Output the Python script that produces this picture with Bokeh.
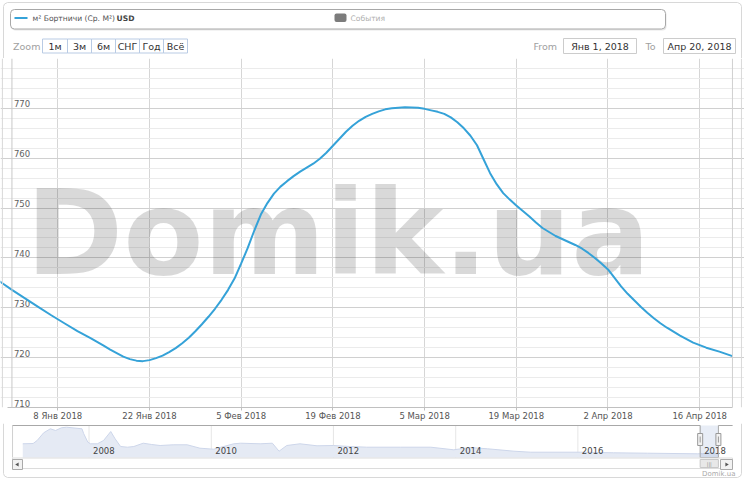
import math
import pandas as pd
from bokeh.plotting import figure
from bokeh.layouts import column
from bokeh.models import Range1d, FixedTicker, Grid, Span, ColumnDataSource
from bokeh.core.properties import value
from bokeh.embed import file_html
from bokeh.resources import INLINE

FONT = "DejaVu Sans"
LINE_COLOR = "#35a2d8"

# ---------------- data ----------------
series_label = "м² Бортничи (Ср. М²) "
series_unit = "USD"
events_label = "События"
zoom_label = "Zoom"
zoom_buttons = ["1м", "3м", "6м", "СНГ", "Год", "Всё"]
range_from = "2018-01-01"
range_to = "2018-04-20"
range_from_label = "Янв 1, 2018"
range_to_label = "Апр 20, 2018"
watermark = "Domik.ua"
credit = "Domik.ua"

# price series: days counted from 2018-01-01
price_base = "2018-01-01"
price_day_offsets = [-2, 0, 2, 4, 6, 8, 10, 12, 14, 15,
                     16, 17, 18, 19, 20, 21, 22, 23, 24, 25,
                     26, 27, 28, 29, 30, 31, 32, 33, 34, 35,
                     36, 37, 38, 39, 40, 41, 42, 43, 44, 45,
                     46, 47, 48, 49, 50, 51, 52, 53, 54, 55,
                     56, 57, 58, 60, 62, 63, 64, 65, 66, 67,
                     68, 69, 70, 71, 72, 73, 74, 75, 76, 77,
                     78, 79, 80, 81, 82, 83, 84, 85, 86, 87,
                     88, 89, 90, 91, 92, 93, 94, 95, 96, 97,
                     98, 99, 100, 102, 104, 106, 108, 110]
price_values = [735.4, 733.6, 731.9, 730.2, 728.5, 726.9, 725.3, 723.9, 722.4, 721.6,
                720.9, 720.2, 719.7, 719.4, 719.3, 719.5, 719.9, 720.4, 721.1, 721.9,
                722.9, 724.0, 725.3, 726.7, 728.2, 729.8, 731.6, 733.6, 735.9, 738.9,
                742.0, 745.5, 748.7, 751.0, 752.9, 754.3, 755.4, 756.4, 757.3, 758.1,
                758.9, 759.9, 761.1, 762.5, 763.9, 765.3, 766.5, 767.5, 768.3, 768.9,
                769.4, 769.8, 770.0, 770.2, 770.1, 769.9, 769.6, 769.3, 768.9, 768.2,
                767.2, 766.0, 764.5, 762.6, 759.8, 757.0, 754.8, 753.0, 751.7, 750.5,
                749.4, 748.3, 747.1, 746.0, 745.2, 744.4, 743.8, 743.2, 742.6, 741.9,
                741.0, 740.0, 738.9, 737.7, 736.0, 734.3, 732.8, 731.5, 730.2, 729.0,
                727.9, 726.9, 726.0, 724.4, 723.0, 722.0, 721.2, 720.3]

x_tick_dates = ["2018-01-08", "2018-01-22", "2018-02-05", "2018-02-19",
                "2018-03-05", "2018-03-19", "2018-04-02", "2018-04-16"]
x_tick_labels = ["8 Янв 2018", "22 Янв 2018", "5 Фев 2018", "19 Фев 2018",
                 "5 Мар 2018", "19 Мар 2018", "2 Апр 2018", "16 Апр 2018"]
y_ticks = [710, 720, 730, 740, 750, 760, 770, 780]
y_label_ticks = [710, 720, 730, 740, 750, 760, 770]
y_minor_ticks = [712, 714, 716, 718, 722, 724, 726, 728, 732, 734, 736, 738,
                 742, 744, 746, 748, 752, 754, 756, 758, 762, 764, 766, 768,
                 772, 774, 776, 778]

nav_dates = ["2006-12-01", "2007-02-01", "2007-02-25", "2007-04-05", "2007-05-15",
             "2007-06-15", "2007-07-20", "2007-08-20", "2007-11-20", "2007-11-30",
             "2007-12-25", "2008-01-10", "2008-02-20", "2008-03-28", "2008-05-10",
             "2008-06-05", "2008-07-08", "2008-08-18", "2008-09-25", "2008-11-20",
             "2009-01-10", "2009-03-01", "2009-05-18", "2009-08-10", "2009-10-25",
             "2010-01-15", "2010-05-15", "2010-06-25", "2010-10-20", "2011-01-01",
             "2011-02-10", "2011-03-28", "2011-06-15", "2011-09-25", "2012-01-01",
             "2012-04-10", "2012-07-18", "2013-02-05", "2013-08-05", "2013-12-20",
             "2014-03-28", "2014-07-10", "2014-12-15", "2015-03-25", "2016-01-15",
             "2016-08-01", "2017-02-20", "2017-12-15", "2018-01-15", "2018-02-20",
             "2018-03-10", "2018-04-20"]
nav_values = [1200, 1214, 1358, 1728, 1920,
              1838, 1968, 1997, 1920, 1694,
              1277, 1200, 1200, 1358, 1790,
              1440, 1070, 1037, 1070, 1229,
              1166, 1118, 1152, 1152, 989,
              941, 1200, 1229, 1200, 1229,
              845, 1118, 1200, 1104, 1118,
              1070, 1037, 1037, 1037, 912,
              1022, 960, 845, 797, 797,
              768, 749, 720, 727, 762,
              769, 721]
nav_year_ticks = ["2008-01-01", "2010-01-01", "2012-01-01", "2014-01-01",
                  "2016-01-01", "2018-01-01"]
nav_year_labels = ["2008", "2010", "2012", "2014", "2016", "2018"]


def ts(s):
    return pd.Timestamp(s)


def ms(s):
    return float(pd.Timestamp(s).value // 10**6)


TF = value(FONT)
W = 744

# ---------------- header (legend + range selector) ----------------
def HY(ry):
    return 58 - ry


h = figure(width=W, height=58, x_range=Range1d(0, W), y_range=Range1d(0, 58),
           min_border=0, toolbar_location=None, output_backend="svg",
           x_axis_location=None, y_axis_location=None, outline_line_color=None)
h.grid.visible = False

# container border (top part)
h.line(x=[3, 3, 4, 7, 737, 740, 741, 741],
       y=[HY(58), HY(6), HY(3.5), HY(2), HY(2), HY(3.5), HY(6), HY(58)],
       line_color="#d8d8d8")

# legend box with slight shadow
h.quad(left=[11], right=[666], top=[HY(10)], bottom=[HY(30)],
       fill_color="#e8e8e8", line_color=None, border_radius=4)
h.quad(left=[10], right=[665], top=[HY(9)], bottom=[HY(28.5)],
       fill_color="white", line_color="#a8a8a8", border_radius=4)
h.segment(x0=[14], y0=[HY(17.5)], x1=[27], y1=[HY(17.5)],
          line_color=LINE_COLOR, line_width=2)
h.text(x=[32], y=[HY(17.5)], text=[series_label], text_font=TF,
       text_font_size="7.6px", text_color="#555555", text_baseline="middle")
h.text(x=[116], y=[HY(17.5)], text=[series_unit], text_font=TF,
       text_font_size="7.6px", text_font_style="bold", text_color="#444444",
       text_baseline="middle")
h.quad(left=[334], right=[346], top=[HY(13)], bottom=[HY(21.5)],
       fill_color="#7c7c7c", line_color=None, border_radius=2)
h.text(x=[350], y=[HY(17.5)], text=[events_label], text_font=TF,
       text_font_size="7.6px", text_color="#b0b0b0", text_baseline="middle")

# zoom buttons
h.text(x=[12.5], y=[HY(45.5)], text=[zoom_label], text_font=TF,
       text_font_size="9.5px", text_color="#a0a0a0", text_baseline="middle")
btn_edges = [42, 67, 91, 115, 139, 163, 187]
h.quad(left=btn_edges[:-1], right=btn_edges[1:],
       top=[HY(38.5)] * 6, bottom=[HY(52.5)] * 6,
       fill_color="white", line_color="#b9cbe4")
h.text(x=[(a + b) / 2 for a, b in zip(btn_edges[:-1], btn_edges[1:])],
       y=[HY(45.5)] * 6, text=zoom_buttons, text_font=TF, text_font_size="9.5px",
       text_color="#333333", text_align="center", text_baseline="middle")

# from / to inputs
h.text(x=[533], y=[HY(45.5)], text=["From"], text_font=TF,
       text_font_size="9.5px", text_color="#a0a0a0", text_baseline="middle")
h.quad(left=[563], right=[636], top=[HY(38)], bottom=[HY(53)],
       fill_color="white", line_color="#cccccc")
h.text(x=[599.5], y=[HY(45.5)], text=[range_from_label], text_font=TF,
       text_font_size="9.5px", text_color="#333333", text_align="center",
       text_baseline="middle")
h.text(x=[645], y=[HY(45.5)], text=["To"], text_font=TF,
       text_font_size="9.5px", text_color="#a0a0a0", text_baseline="middle")
h.quad(left=[663], right=[735], top=[HY(38)], bottom=[HY(53)],
       fill_color="white", line_color="#cccccc")
h.text(x=[699], y=[HY(45.5)], text=[range_to_label], text_font=TF,
       text_font_size="9.5px", text_color="#333333", text_align="center",
       text_baseline="middle")

# ---------------- main chart ----------------
x_start = ts("2017-12-30 06:03")
x_end = ts("2018-04-22 20:10")
grid_left = ts("2017-12-31 08:00")
plot_right = ts("2018-04-21")
frame_left = ts("2017-12-30 13:00")
frame_right = ts("2018-04-22 09:00")

p = figure(width=W, height=365, x_axis_type="datetime",
           x_range=Range1d(x_start, x_end), y_range=Range1d(710, 780),
           y_axis_location=None, toolbar_location=None, output_backend="svg",
           min_border_left=0, min_border_right=0, min_border_top=0,
           min_border_bottom=15, outline_line_color=None)
p.grid.visible = False

tick_ms = [ms(d) for d in x_tick_dates]
ax = p.xaxis[0]
ax.ticker = FixedTicker(ticks=tick_ms)
ax.major_label_overrides = {t: l for t, l in zip(tick_ms, x_tick_labels)}
ax.bounds = (ms(grid_left), ms(plot_right))
ax.axis_line_color = "#c0c0c0"
ax.major_tick_line_color = "#c0c0c0"
ax.major_tick_out = 3
ax.major_tick_in = 0
ax.minor_tick_line_color = None
ax.major_label_standoff = 0
ax.major_label_text_font = FONT
ax.major_label_text_font_size = "8.5px"
ax.major_label_text_color = "#555555"

p.add_layout(Grid(dimension=0, ticker=FixedTicker(ticks=tick_ms),
                  grid_line_color="#d6d6d6"))
p.add_layout(Grid(dimension=1,
                  ticker=FixedTicker(ticks=y_ticks, minor_ticks=y_minor_ticks),
                  grid_line_color="#d0d0d0", minor_grid_line_color="#ebebeb",
                  bounds=(ms(grid_left), ms(plot_right))))
p.add_layout(Span(location=ms(range_from), dimension="height", line_color="#c8c8c8"))
p.add_layout(Span(location=ms(plot_right), dimension="height", line_color="#d0d0d0"))
p.add_layout(Span(location=ms(frame_left), dimension="height", line_color="#d8d8d8"))
p.add_layout(Span(location=ms(frame_right), dimension="height", line_color="#d8d8d8"))

# watermark
p.text(x=[ts("2018-02-19 19:00")], y=[745], text=[watermark], text_font=TF,
       text_font_size="117px", text_font_style="bold", text_color="black",
       text_alpha=0.15, text_align="center", text_baseline="alphabetic")

# y labels inside the plot
ysrc = ColumnDataSource(dict(x=[ts(range_from)] * len(y_label_ticks), y=y_label_ticks,
                             t=[str(v) for v in y_label_ticks]))
p.text(x="x", y="y", text="t", source=ysrc, x_offset=2, y_offset=-1,
       text_baseline="bottom", text_align="left", text_font=TF,
       text_font_size="8.5px", text_color="#606060")

price_x = [ts(price_base) + pd.Timedelta(days=d) for d in price_day_offsets]
src = ColumnDataSource(dict(x=price_x, y=price_values))
p.line(x="x", y="y", source=src, line_color=LINE_COLOR, line_width=2)

# ---------------- navigator ----------------
def NY(ry):
    return 480 - ry


nav_start = ts("2006-07-21")
nav_end = ts("2018-09-23")
nav_left_end = ts("2006-10-01")
nav_right_end = ts("2018-07-14")
nav_floor = 542

n = figure(width=W, height=57, x_range=Range1d(0, W), y_range=Range1d(0, 57),
           min_border=0, toolbar_location=None, output_backend="svg",
           x_axis_location=None, y_axis_location=None, outline_line_color=None)
n.grid.visible = False
n.extra_x_ranges = {"nx": Range1d(nav_start, nav_end)}
n.extra_y_ranges = {"ny": Range1d(-562, 2174)}

yrs = [ts(d) for d in nav_year_ticks]
n.segment(x0=yrs, x1=yrs, y0=[NY(425)] * len(yrs), y1=[NY(457)] * len(yrs),
          line_color="#e6e6e6", x_range_name="nx")
nsrc = ColumnDataSource(dict(x=[ts(d) for d in nav_dates], y=nav_values,
                             y0=[nav_floor] * len(nav_values)))
n.varea(x="x", y1="y0", y2="y", source=nsrc, fill_color="#e5eaf4",
        x_range_name="nx", y_range_name="ny")
n.line(x="x", y="y", source=nsrc, line_color="#cdd6ea", line_width=1,
       x_range_name="nx", y_range_name="ny")
# selected mask
n.quad(left=[ts(range_from)], right=[ts(range_to)], bottom=[NY(457)], top=[NY(425)],
       fill_color="#6685c2", fill_alpha=0.15, line_color=None, x_range_name="nx")
n.text(x=yrs, y=[NY(450)] * len(yrs), text=nav_year_labels, x_offset=4,
       text_font=TF, text_font_size="8.5px", text_color="#444444",
       text_baseline="middle", x_range_name="nx")
# outline
n.segment(x0=[nav_left_end], x1=[nav_left_end], y0=[NY(425)], y1=[NY(457)],
          line_color="#d0d0d0", x_range_name="nx")
n.line(x=[nav_left_end, ts(range_from), ts(range_from), ts(range_to), ts(range_to),
          nav_right_end],
       y=[NY(425), NY(425), NY(457), NY(457), NY(425), NY(425)],
       line_color="#a8a8a8", x_range_name="nx")
# scrollbar track
n.quad(left=[12], right=[732], top=[NY(457.5)], bottom=[NY(468)],
       fill_color="white", line_color="#dcdcdc")
n.quad(left=[ts(range_from)], right=[ts(range_to)], top=[NY(459)], bottom=[NY(467)],
       fill_color="#e8e8e8", line_color="#c8c8c8", x_range_name="nx")
n.text(x=[ts(range_from) + (ts(range_to) - ts(range_from)) / 2], y=[NY(463)],
       text=["|||"], text_font=TF, text_font_size="5px", text_color="#888888",
       text_align="center", text_baseline="middle", x_range_name="nx")
n.quad(left=[12, 720], right=[22, 732], top=[NY(459)] * 2,
       bottom=[NY(469)] * 2, fill_color="#f2f2f2", line_color="#aaaaaa")
n.scatter(x=[17, 726], y=[NY(464), NY(464)], marker="triangle", size=4,
          angle=[math.pi / 2, -math.pi / 2], fill_color="#555555", line_color=None)
# handles
hx = [ts(range_from), ts(range_to)]
n.rect(x=hx, y=[NY(439)] * 2, width=5, height=12, width_units="screen",
       height_units="screen", fill_color="#f2f2f2", line_color="#999999",
       x_range_name="nx")
n.rect(x=hx, y=[NY(439)] * 2, width=1, height=6, width_units="screen",
       height_units="screen", fill_color="#999999", line_color=None,
       x_range_name="nx")
# credit
n.text(x=[735], y=[NY(473)], text=[credit], text_font=TF, text_font_size="7px",
       text_color="#aaaaaa", text_align="right", text_baseline="middle")
# container border (bottom part)
n.line(x=[3, 3, 4, 7, 737, 740, 741, 741],
       y=[NY(423), NY(473), NY(475.5), NY(477), NY(477), NY(475.5), NY(473), NY(423)],
       line_color="#d8d8d8")

layout = column(h, p, n, spacing=0)
open("out.html", "w").write(file_html(layout, INLINE))
